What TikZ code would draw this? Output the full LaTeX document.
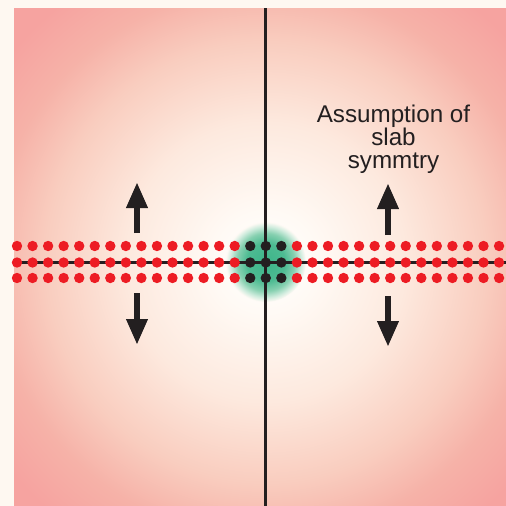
\documentclass[tikz,border=0pt]{standalone}
\usepackage{fontspec}
\setmainfont{Liberation Sans}
\usetikzlibrary{arrows.meta}
\definecolor{cream}{HTML}{FEF8F1}
\definecolor{pinkedge}{HTML}{F6A3A0}
\definecolor{c1}{HTML}{FFFAF5}
\definecolor{c2}{HTML}{FDE9DE}
\definecolor{c3}{HTML}{F9CDBF}
\definecolor{c4}{HTML}{F6B2A8}
\definecolor{dotred}{HTML}{ED1C24}
\definecolor{ink}{HTML}{231F20}
\definecolor{g0}{HTML}{3DB589}
\definecolor{g1}{HTML}{4DBB92}
\definecolor{g2}{HTML}{86D0B0}
\definecolor{g3}{HTML}{CDEBDC}
\pgfdeclareradialshading{bgglow}{\pgfpoint{0bp}{0bp}}{color(0bp)=(white); color(3.5bp)=(c1); color(9.7bp)=(c2); color(15.3bp)=(c3); color(19.1bp)=(c4); color(22.9bp)=(pinkedge); color(50bp)=(pinkedge)}
\pgfdeclareradialshading{greenglow}{\pgfpoint{0bp}{0bp}}{color(0bp)=(g0); color(12bp)=(g1); color(18bp)=(g2); color(22bp)=(g3); color(25bp)=(c1); color(50bp)=(c1)}
\tikzset{
  arr/.style={draw=ink, line width=6.5pt, -{Triangle[width=20pt,length=26pt,fill=ink]}},
  axisline/.style={draw=ink, line width=2.2pt},
  reddot/.style={fill=dotred},
  blackdot/.style={fill=ink},
  lbl/.style={font=\fontsize{24.2}{22.5}\selectfont, text=ink, align=center, inner sep=0pt}
}
\begin{document}
\begin{tikzpicture}[x=1pt,y=-1pt]
\useasboundingbox (0,0) rectangle (506,506);
\fill[cream] (0,0) rectangle (506,506);
\begin{scope}
  \clip (14,8) rectangle (506,506);
  \shade[shading=bgglow] (265.5,262) circle (360);
\end{scope}
\begin{scope}
  \clip (265.8,262) circle (40);
  \shade[shading=greenglow] (265.8,262) circle (40);
\end{scope}
% axes
\coordinate (vtop) at (265.5,8);
\coordinate (vbot) at (265.5,506);
\coordinate (hleft) at (14,262.5);
\coordinate (hright) at (506,262.5);
\draw[axisline] (vtop) -- (vbot);
\draw[axisline] (hleft) -- (hright);
% dots
\foreach \i in {0,...,31}{
  \pgfmathsetmacro{\xx}{17+15.55*\i}
  \ifnum\i>14 \ifnum\i<18
    \foreach \yy in {246,262.5,278}{\fill[blackdot] (\xx,\yy) circle (5.2);}
  \else
    \foreach \yy in {246,262.5,278}{\fill[reddot] (\xx,\yy) circle (5.2);}
  \fi\else
    \foreach \yy in {246,262.5,278}{\fill[reddot] (\xx,\yy) circle (5.2);}
  \fi
}
% arrows
\coordinate (lub) at (137,233);
\coordinate (lut) at (137,182);
\coordinate (ldt) at (137,293);
\coordinate (ldb) at (137,345);
\coordinate (rub) at (388,235);
\coordinate (rut) at (388,183);
\coordinate (rdt) at (388,296);
\coordinate (rdb) at (388,347);
\draw[arr] (lub) -- (lut);
\draw[arr] (ldt) -- (ldb);
\draw[arr] (rub) -- (rut);
\draw[arr] (rdt) -- (rdb);
% label
\node[lbl, anchor=base] (label) at (393.5,168.3) {Assumption of\\slab\\symmtry};
\end{tikzpicture}
\end{document}
